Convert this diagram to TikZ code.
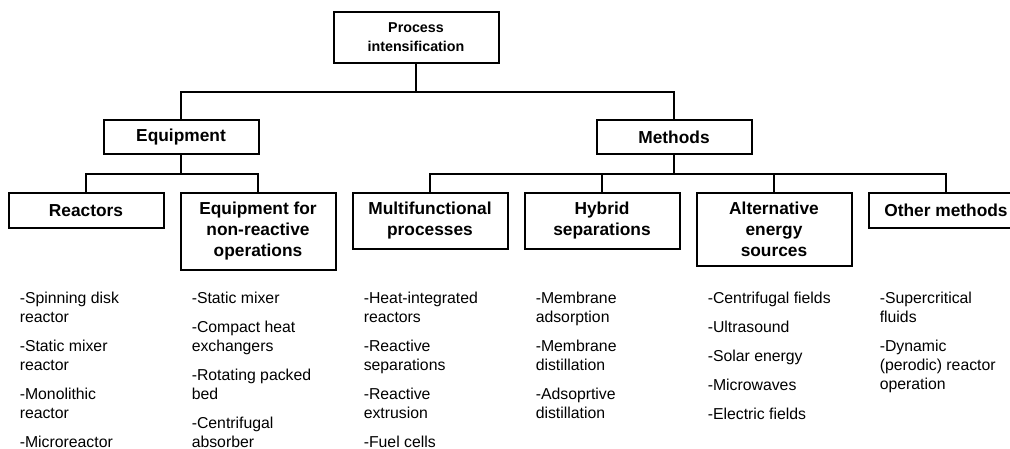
\documentclass[tikz,border=0pt]{standalone}
\usepackage{fontspec}
\setmainfont{Liberation Sans}
\usetikzlibrary{positioning}
\tikzset{
  rootbox/.style={
    draw, line width=1.5pt, align=center,
    font=\fontsize{10.7}{14.25}\selectfont\bfseries,
    minimum width=123.75pt, minimum height=38.25pt,
  },
  branchbox/.style={
    draw, line width=1.5pt, align=center,
    font=\fontsize{13}{15.75}\selectfont\bfseries,
    minimum width=116.25pt, minimum height=25.5pt,
  },
  catbox/.style={
    draw, line width=1.5pt, align=center, anchor=north,
    font=\fontsize{13}{15.75}\selectfont\bfseries,
    minimum width=116.25pt, minimum height=26.25pt, inner ysep=7pt,
  },
  itemlist/.style={
    align=left, anchor=north west, inner sep=0pt,
    font=\fontsize{11.85}{14.25}\selectfont,
  },
  link/.style={line width=1.5pt},
}
\begin{document}
\begin{tikzpicture}[x=0.75pt, y=-0.75pt]
  \useasboundingbox (0,0) rectangle (1010,449);

  % levels 1 and 2
  \node[rootbox] (pi) at (416,37.5) {Process\\intensification};
  \node[branchbox] (equip) at (181,137) {Equipment};
  \node[branchbox] (meth) at (674,137) {Methods};

  % level 3
  \node[catbox] (reac) at (86,192) {Reactors};
  \node[catbox, right=11.25pt of reac.north east, anchor=north west] (nonreac)
    {Equipment for\\non-reactive\\operations};
  \node[catbox, right=11.25pt of nonreac.north east, anchor=north west] (multi)
    {Multifunctional\\processes};
  \node[catbox, right=11.25pt of multi.north east, anchor=north west] (hybrid)
    {Hybrid\\separations};
  \node[catbox, right=11.25pt of hybrid.north east, anchor=north west] (altener)
    {Alternative\\energy\\sources};
  \node[catbox, right=11.25pt of altener.north east, anchor=north west] (other)
    {Other methods};

  % item lists
  \coordinate (listrow) at (0,292);
  \node[itemlist, xshift=9pt] (lreac) at (reac.west |- listrow)
    {-Spinning disk\\reactor\\[7.5pt]-Static mixer\\reactor\\[7.5pt]-Monolithic\\reactor\\[7.5pt]-Microreactor};
  \node[itemlist, xshift=9pt] (lnonreac) at (nonreac.west |- listrow)
    {-Static mixer\\[7.5pt]-Compact heat\\exchangers\\[7.5pt]-Rotating packed\\bed\\[7.5pt]-Centrifugal\\absorber};
  \node[itemlist, xshift=9pt] (lmulti) at (multi.west |- listrow)
    {-Heat-integrated\\reactors\\[7.5pt]-Reactive\\separations\\[7.5pt]-Reactive\\extrusion\\[7.5pt]-Fuel cells};
  \node[itemlist, xshift=9pt] (lhybrid) at (hybrid.west |- listrow)
    {-Membrane\\adsorption\\[7.5pt]-Membrane\\distillation\\[7.5pt]-Adsoprtive\\distillation};
  \node[itemlist, xshift=9pt] (laltener) at (altener.west |- listrow)
    {-Centrifugal fields\\[7.5pt]-Ultrasound\\[7.5pt]-Solar energy\\[7.5pt]-Microwaves\\[7.5pt]-Electric fields};
  \node[itemlist, xshift=9pt] (lother) at (other.west |- listrow)
    {-Supercritical\\fluids\\[7.5pt]-Dynamic\\(perodic) reactor\\operation};

  % tree connectors
  \draw[link] (pi.south) -- ++(0,28) -| (equip.north);
  \draw[link] (pi.south) -- ++(0,28) -| (meth.north);
  \draw[link] (equip.south) -- ++(0,19) -| (reac.north);
  \draw[link] (equip.south) -- ++(0,19) -| (nonreac.north);
  \foreach \c in {multi,hybrid,altener,other}
    \draw[link] (meth.south) -- ++(0,19) -| (\c.north);

\end{tikzpicture}
\end{document}
